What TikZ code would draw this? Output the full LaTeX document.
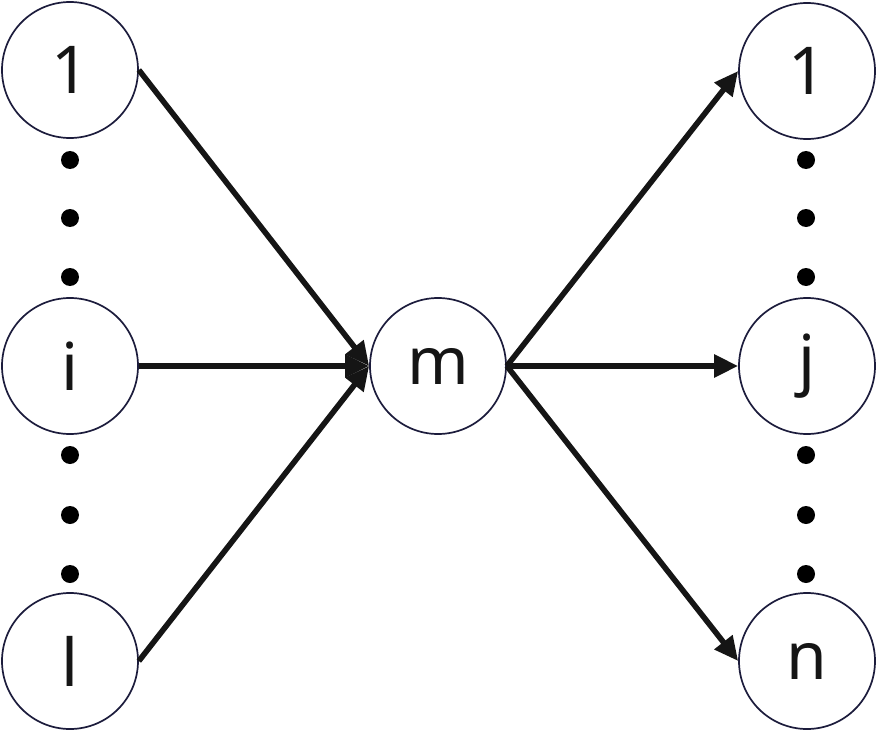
\documentclass[tikz,border=0pt]{standalone}
\usepackage{fontspec}
\setmainfont{Noto Sans}
\usetikzlibrary{arrows.meta}
\definecolor{ringcol}{HTML}{1C1C3C}
\definecolor{inkcol}{HTML}{151515}
\begin{document}
\begin{tikzpicture}[x=1pt,y=-1pt,
  vertex/.style={circle,draw=ringcol,line width=1.7pt,fill=white,minimum size=136pt,inner sep=0pt,
    font=\fontsize{66}{72}\selectfont,text=inkcol},
  link/.style={line width=5.6pt,draw=inkcol,-{Triangle[length=24pt,width=22pt]}},
  dotmark/.style={circle,fill=black,minimum size=18pt,inner sep=0pt}]
\useasboundingbox (0,0) rectangle (878,733);
\node[vertex] (L1) at (70,70) {1};
\node[vertex] (Li) at (70,366) {i};
\node[vertex] (Ll) at (70,661) {l};
\node[vertex] (M) at (438,366) {m};
\node[vertex] (R1) at (807,71) {1};
\node[vertex] (Rj) at (807,366) {j};
\node[vertex] (Rn) at (807,661) {n};
\foreach \k/\y in {a/160,b/218,c/277,d/455,e/515,f/574}{
  \node[dotmark] (ld\k) at (70,\y) {};
  \node[dotmark] (rd\k) at (806,\y) {};
}
\draw[link] (L1.east) -- (M.west);
\draw[link] (Li.east) -- (M.west);
\draw[link] (Ll.east) -- (M.west);
\draw[link] (M.east) -- (R1.west);
\draw[link] (M.east) -- (Rj.west);
\draw[link] (M.east) -- (Rn.west);
\end{tikzpicture}
\end{document}
